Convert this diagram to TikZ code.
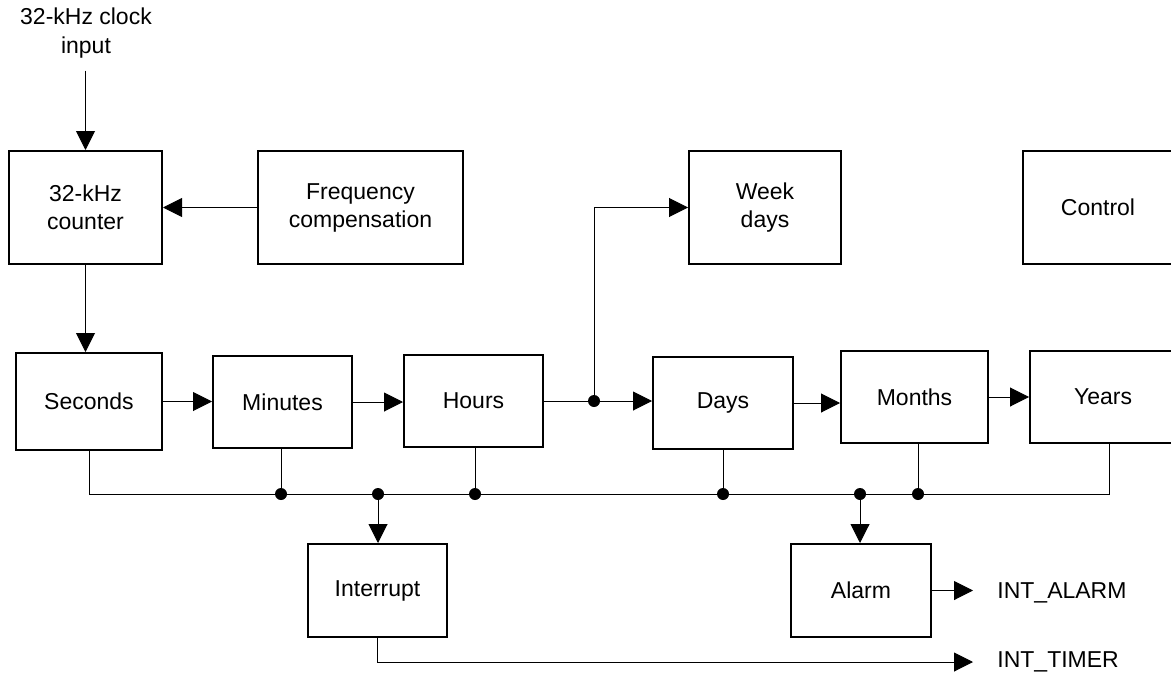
\documentclass[tikz,border=0pt]{standalone}
\usepackage{fontspec}
\setmainfont{Liberation Sans}
\usepackage{tikz}
\usetikzlibrary{arrows.meta}
\tikzstyle{block}=[draw, line width=1pt, align=center, inner sep=0pt, minimum height=46pt, font=\fontsize{11.5}{14}\selectfont]
\tikzstyle{point}=[circle, fill, inner sep=0pt, minimum size=6pt]
\tikzstyle{wire}=[draw=black, line width=0.5pt]
\tikzstyle{arrow}=[draw=black, line width=0.5pt, -{Triangle[length=9.5pt,width=9.5pt]}]
\tikzstyle{signal}=[anchor=west, inner sep=0pt, font=\fontsize{11.5}{14}\selectfont]

\begin{document}
\begin{tikzpicture}[x=0.5pt, y=-0.5pt]
		   \useasboundingbox (0,0) rectangle (1171,674);
		   \begin{scope}
			   \node (clk) at (86,33)[align=center, inner sep=0pt, font=\fontsize{11.5}{14.5}\selectfont] {32-kHz clock\\input};
			   \node (cnt) at (85.5,207.5)[block, minimum width=76.5pt, minimum height=56.5pt] {32-kHz\\counter};
			   \node (freq) at (360.5,207.5)[block, minimum width=102.5pt, minimum height=56.5pt] {Frequency\\compensation};
			   \node (wk) at (765,207.5)[block, minimum width=76pt, minimum height=56.5pt] {Week\\days};
			   \node (ctl) at (1098,207.5)[block, minimum width=75pt, minimum height=56.5pt] {Control};
			   \node (sec) at (89,401.5)[block, minimum width=73pt, minimum height=48.5pt] {Seconds};
			   \node (min) at (282.5,402)[block, minimum width=69.5pt] {Minutes};
			   \node (hrs) at (473.5,401)[block, minimum width=69.5pt] {Hours};
			   \node (day) at (723,403)[block, minimum width=70pt] {Days};
			   \node (mon) at (914.5,397)[block, minimum width=73.5pt] {Months};
			   \node (yrs) at (1103,397)[block, minimum width=73pt] {Years};
			   \node (int) at (377.5,590.5)[block, minimum width=69.5pt, minimum height=46.5pt] {Interrupt};
			   \node (alm) at (861,590.5)[block, minimum width=70pt, minimum height=46.5pt] {Alarm};
			   \node (almtxt) at (997,593)[signal] {INT\_ALARM};
			   \node (tmrtxt) at (997,662)[signal] {INT\_TIMER};
		   \end{scope}
		   \begin{scope}
			   \node (jbr) at (594,401)[point] {};
			   \node (jmin) at (281,494)[point] {};
			   \node (jint) at (378,494)[point] {};
			   \node (jhrs) at (475,494)[point] {};
			   \node (jday) at (723,494)[point] {};
			   \node (jalm) at (860,494)[point] {};
			   \node (jmon) at (918,494)[point] {};
			   \coordinate (busend) at (1109,494);
			   \coordinate (tmr) at (973,662);
		   \end{scope}
		   \begin{scope}
			   \path [arrow] ([yshift=-6pt]clk.south -| cnt.north) -- (cnt.north);
			   \path [arrow] (freq.west) -- (cnt.east);
			   \path [arrow] (cnt.south) -- (cnt.south |- sec.north);
			   \path [arrow] (sec.east) -- (sec.east -| min.west);
			   \path [arrow] (min.east) -- (min.east -| hrs.west);
			   \path [arrow] (hrs.east) -- (hrs.east -| day.west);
			   \path [arrow] (jbr.center) |- (wk.west);
			   \path [arrow] (day.east) -- (day.east -| mon.west);
			   \path [arrow] (mon.east) -- (mon.east -| yrs.west);
			   \path [wire] (sec.south) |- (busend) -- (busend |- yrs.south);
			   \path [wire] (jmin.center) -- (jmin |- min.south);
			   \path [wire] (jhrs.center) -- (jhrs |- hrs.south);
			   \path [wire] (jday.center) -- (jday |- day.south);
			   \path [wire] (jmon.center) -- (jmon |- mon.south);
			   \path [arrow] (jint.center) -- (jint |- int.north);
			   \path [arrow] (jalm.center) -- (jalm |- alm.north);
			   \path [arrow] (alm.east) -- (alm.east -| tmr);
			   \path [arrow] (int.south) |- (tmr);
		   \end{scope}
	   \end{tikzpicture}
\end{document}
